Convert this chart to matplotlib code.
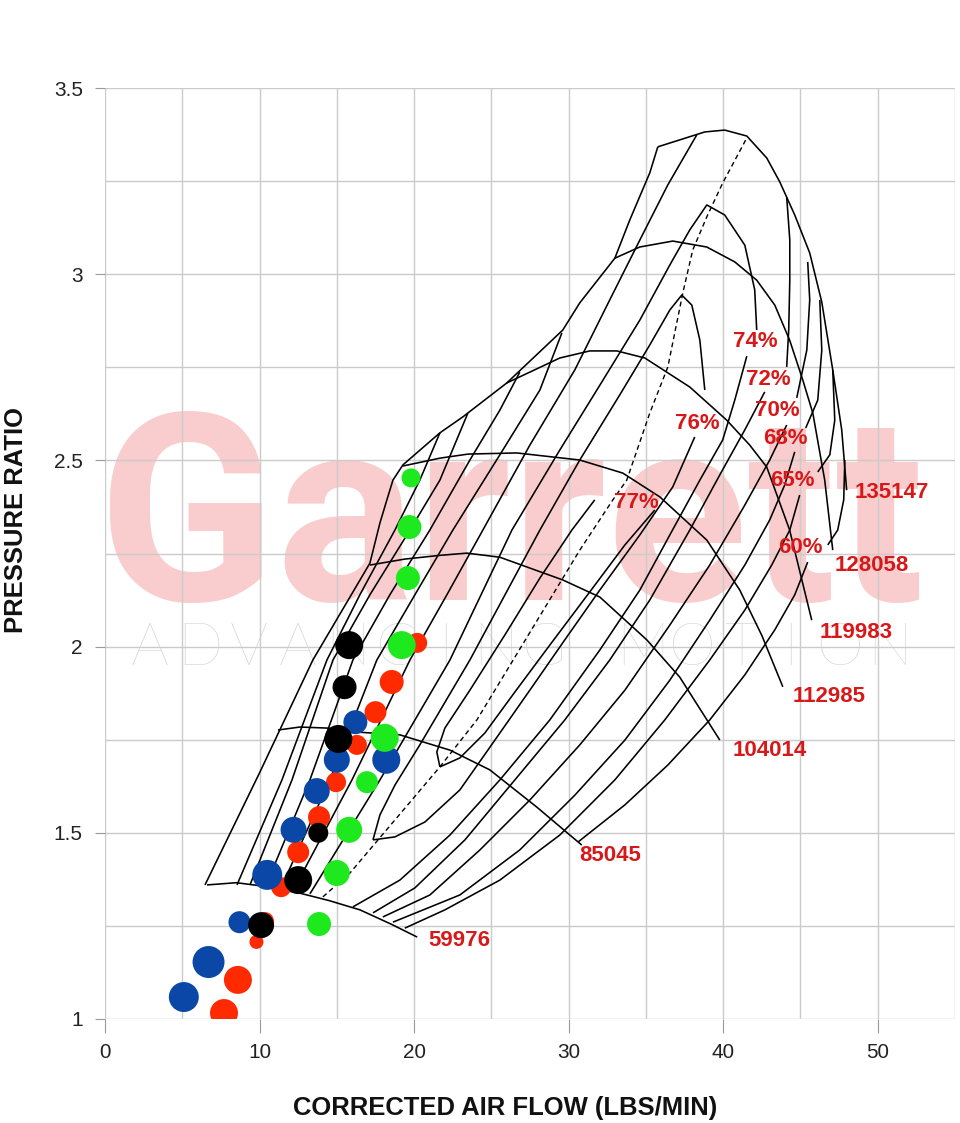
import matplotlib
matplotlib.use("Agg")
import matplotlib.pyplot as plt
from matplotlib import font_manager as fm
from matplotlib.ticker import MultipleLocator

# ---------------- map data (corrected air flow lbs/min, pressure ratio) ----------------
surge_x = [6.47, 10.0, 13.45, 17.14, 17.79, 18.24, 18.63, 19.28, 21.67, 23.16, 26.0, 29.62, 30.72, 32.99, 33.96, 35.25, 35.77]
surge_y = [1.360, 1.661, 1.964, 2.224, 2.332, 2.394, 2.447, 2.488, 2.574, 2.617, 2.708, 2.850, 2.923, 3.043, 3.146, 3.272, 3.342]

spd_59976_x = [6.6, 8.5, 10.0, 12.6, 14.5, 16.5, 18.5, 20.2]
spd_59976_y = [1.360, 1.366, 1.358, 1.338, 1.318, 1.293, 1.255, 1.220]
spd_85045_x = [11.19, 12.61, 14.5, 16.49, 19.08, 22.32, 24.9, 27.94, 30.85]
spd_85045_y = [1.776, 1.784, 1.781, 1.770, 1.763, 1.722, 1.669, 1.569, 1.467]
spd_104014_x = [17.14, 19.4, 21.67, 23.42, 25.55, 29.62, 32.02, 35.06, 37.19, 39.78]
spd_104014_y = [2.219, 2.235, 2.245, 2.251, 2.240, 2.179, 2.133, 2.018, 1.918, 1.749]
spd_112985_x = [19.28, 21.67, 23.5, 26.65, 30.72, 33.5, 35.9, 38.94, 41.07, 42.5, 43.86]
spd_112985_y = [2.485, 2.506, 2.517, 2.520, 2.501, 2.466, 2.402, 2.286, 2.152, 2.03, 1.892]
spd_119983_x = [26.0, 29.43, 31.37, 33.12, 34.93, 37.84, 40.23, 41.72, 42.82, 44.3, 45.73]
spd_119983_y = [2.708, 2.775, 2.794, 2.794, 2.775, 2.697, 2.608, 2.541, 2.482, 2.313, 2.071]
spd_128058_x = [32.99, 34.6, 36.74, 38.94, 40.75, 42.17, 43.34, 44.3, 45.15, 45.8, 46.57, 47.09]
spd_128058_y = [3.043, 3.073, 3.089, 3.073, 3.033, 2.984, 2.917, 2.823, 2.716, 2.627, 2.447, 2.259]
spd_135147_x = [35.77, 38.81, 40.10, 41.53, 42.82, 43.66, 44.63, 45.6, 46.38, 47.09, 47.67, 47.99]
spd_135147_y = [3.342, 3.382, 3.387, 3.371, 3.312, 3.248, 3.159, 3.057, 2.925, 2.743, 2.582, 2.420]

speed_labels = ["59976", "85045", "104014", "112985", "119983", "128058", "135147"]
speed_label_x = [20.9, 30.7, 40.6, 44.5, 46.25, 47.2, 48.5]
speed_label_y = [1.212, 1.438, 1.722, 1.865, 2.039, 2.219, 2.415]

dash_x = [14.1, 15.85, 21.67, 24.06, 30.72, 32.86, 33.76, 35.25, 36.42, 37.39, 38.03, 38.94, 39.97, 41.53]
dash_y = [1.328, 1.392, 1.677, 1.803, 2.259, 2.394, 2.447, 2.627, 2.751, 2.950, 3.065, 3.154, 3.245, 3.366]

# efficiency islands: left (surge side) branch, right branch above its label, lower branch below it
eff77_l_x = [21.67, 21.47, 21.99, 23.61, 25.87, 28.14, 30.21, 31.69]
eff77_l_y = [1.677, 1.717, 1.781, 1.883, 2.031, 2.184, 2.313, 2.394]
eff77_r_x = [35.58, 33.64, 31.37, 28.78, 26.52, 24.58, 22.96, 21.67]
eff77_r_y = [2.367, 2.273, 2.147, 2.004, 1.878, 1.768, 1.701, 1.677]

eff76_l_x = [17.34, 17.79, 18.76, 20.37, 23.61, 28.14, 30.72, 33.31, 35.25, 36.55, 37.32, 37.97, 38.49, 38.81]
eff76_l_y = [1.481, 1.548, 1.628, 1.736, 1.964, 2.313, 2.501, 2.676, 2.810, 2.904, 2.944, 2.917, 2.823, 2.689]
eff76_r_x = [38.16, 36.74, 34.61, 32.02, 29.75, 27.49, 25.23, 22.96, 20.70, 18.76, 17.34]
eff76_r_y = [2.563, 2.429, 2.300, 2.152, 2.018, 1.883, 1.749, 1.615, 1.529, 1.489, 1.481]

eff74_l_x = [13.26, 17.79, 22.32, 26.33, 29.43, 32.02, 34.61, 36.55, 37.84, 38.94, 40.10, 41.40, 42.04, 42.17]
eff74_l_y = [1.336, 1.642, 1.964, 2.313, 2.528, 2.702, 2.877, 3.025, 3.119, 3.186, 3.159, 3.078, 2.958, 2.850]
eff74_r_x = [41.53, 40.75, 39.97, 38.49, 36.55, 34.61, 32.02, 28.78, 25.55, 22.32, 19.08, 16.04]
eff74_r_y = [2.780, 2.662, 2.555, 2.447, 2.300, 2.152, 1.991, 1.803, 1.642, 1.494, 1.373, 1.301]

eff72_l_x = [12.16, 15.98, 19.73, 22.12, 24.45, 27.49, 30.40, 32.66, 34.61, 36.42, 38.29]
eff72_l_y = [1.344, 1.642, 1.964, 2.139, 2.313, 2.541, 2.743, 2.931, 3.092, 3.240, 3.374]
eff72_u_x = [44.11, 44.31, 44.31, 44.24, 44.11]
eff72_u_y = [3.207, 3.092, 2.984, 2.850, 2.751]
eff72_r_x = [42.69, 41.40, 39.78, 37.84, 35.25, 32.66, 29.75, 26.52, 23.29, 20.05, 17.34]
eff72_r_y = [2.684, 2.582, 2.461, 2.313, 2.125, 1.964, 1.803, 1.642, 1.481, 1.352, 1.285]

eff70_l_x = [11.32, 14.55, 17.59, 20.05, 22.51, 25.55, 28.14, 29.56]
eff70_l_y = [1.346, 1.642, 1.964, 2.139, 2.313, 2.515, 2.689, 2.842]
eff70_u_x = [45.47, 45.60, 45.41, 44.76]
eff70_u_y = [3.033, 2.931, 2.796, 2.668]
eff70_r_x = [44.11, 43.01, 41.40, 39.13, 36.55, 33.64, 30.72, 27.49, 24.26, 21.02, 17.98]
eff70_r_y = [2.595, 2.501, 2.380, 2.219, 2.058, 1.883, 1.736, 1.588, 1.454, 1.333, 1.274]

eff68_l_x = [10.35, 13.26, 16.04, 18.43, 21.02, 23.61, 25.55, 26.84]
eff68_l_y = [1.352, 1.642, 1.964, 2.139, 2.313, 2.501, 2.635, 2.737]
eff68_u_x = [46.25, 46.38, 46.12, 45.34]
eff68_u_y = [2.931, 2.796, 2.662, 2.587]
eff68_r_x = [44.63, 43.98, 43.01, 41.40, 39.13, 36.55, 33.64, 30.40, 26.84, 22.96, 18.63]
eff68_r_y = [2.523, 2.434, 2.340, 2.219, 2.071, 1.910, 1.749, 1.601, 1.454, 1.333, 1.260]

eff65_l_x = [9.38, 12.10, 14.75, 17.14, 19.73, 21.67, 23.48]
eff65_l_y = [1.360, 1.642, 1.964, 2.139, 2.313, 2.447, 2.627]
eff65_u_x = [47.09, 47.22, 46.90, 46.12]
eff65_u_y = [2.743, 2.608, 2.515, 2.469]
eff65_r_x = [44.95, 44.31, 43.14, 41.40, 39.13, 36.22, 32.99, 29.43, 25.55, 21.99, 19.40]
eff65_r_y = [2.407, 2.313, 2.219, 2.098, 1.964, 1.803, 1.642, 1.494, 1.373, 1.293, 1.244]

eff60_l_x = [8.54, 11.45, 14.36, 16.49, 18.76, 20.37, 21.67]
eff60_l_y = [1.360, 1.642, 1.964, 2.139, 2.313, 2.447, 2.574]
eff60_u_x = [47.87, 47.80, 47.41, 46.77]
eff60_u_y = [2.501, 2.394, 2.313, 2.273]
eff60_r_x = [45.47, 44.63, 43.34, 41.40, 39.13, 36.42, 33.64, 30.60]
eff60_r_y = [2.227, 2.139, 2.045, 1.924, 1.803, 1.682, 1.575, 1.475]

pct_labels = ["77%", "76%", "74%", "72%", "70%", "68%", "65%", "60%"]
pct_x = [34.4, 38.3, 42.1, 42.9, 43.5, 44.0, 44.5, 45.0]
pct_y = [2.388, 2.600, 2.818, 2.716, 2.633, 2.560, 2.447, 2.267]

# ---------------- operating points ----------------
red_x = [20.2, 18.55, 17.5, 16.3, 14.95, 13.85, 12.5, 11.4, 10.35, 9.8, 8.6, 7.7]
red_y = [2.010, 1.905, 1.824, 1.736, 1.636, 1.542, 1.448, 1.354, 1.263, 1.207, 1.105, 1.016]
red_r = [10, 12, 11, 10, 10, 11, 11, 10, 9, 7, 14, 14]
blue_x = [16.2, 15.0, 18.2, 13.7, 12.2, 10.5, 8.7, 6.7, 5.1]
blue_y = [1.797, 1.696, 1.696, 1.612, 1.508, 1.387, 1.260, 1.153, 1.059]
blue_r = [12, 13, 14, 13, 13, 15, 11, 16, 15]
black_x = [15.8, 15.5, 15.1, 13.8, 12.5, 10.1]
black_y = [2.004, 1.891, 1.752, 1.500, 1.373, 1.252]
black_r = [14, 12, 14, 10, 14, 13]
green_x = [19.8, 19.7, 19.6, 19.2, 18.1, 16.95, 15.8, 15.0, 13.85]
green_y = [2.453, 2.321, 2.184, 2.004, 1.755, 1.636, 1.508, 1.392, 1.255]
green_r = [9.5, 12, 12, 14, 14, 11, 13, 13, 12]

RED = "#FF2A00"
BLUE = "#0A47A6"
GREEN = "#1EE81E"
LABEL_RED = "#D81818"

names = {f.name for f in fm.fontManager.ttflist}
NARROW = "Liberation Sans Narrow" if "Liberation Sans Narrow" in names else None
SANS = ["Liberation Sans", "DejaVu Sans"]
narrow_fam = [NARROW] + SANS if NARROW else SANS
nscale = 1.0 if NARROW else 0.88

fig = plt.figure(figsize=(9.6, 11.23), dpi=100)
ax = fig.add_axes([105 / 960, 104 / 1123, 850 / 960, 931 / 1123])
ax.set_xlim(0, 55)
ax.set_ylim(1, 3.5)
ax.set_axisbelow(True)
for s in ax.spines.values():
    s.set_visible(False)

ax.xaxis.set_major_locator(MultipleLocator(10))
ax.xaxis.set_minor_locator(MultipleLocator(5))
ax.yaxis.set_minor_locator(MultipleLocator(0.25))
ax.set_yticks([1, 1.5, 2, 2.5, 3, 3.5])
ax.set_yticklabels(["1", "1.5", "2", "2.5", "3", "3.5"])
ax.grid(which="both", color="#cbcbcb", linewidth=1.0)
ax.tick_params(axis="x", which="major", length=10, color="#999999", labelsize=17 * nscale,
               labelcolor="#222222", pad=7)
ax.tick_params(axis="y", which="major", length=7, color="#999999", labelsize=15,
               labelcolor="#222222", pad=9)
ax.tick_params(which="minor", length=0)
for lab in ax.get_xticklabels():
    lab.set_family(narrow_fam)
for lab in ax.get_yticklabels():
    lab.set_family(SANS)

# watermark
ax.text(26.3, 2.125, "Garrett", ha="center", va="baseline", fontsize=188, color="#F9CDCD",
        family=["Roboto", "DejaVu Sans"], fontweight="bold", zorder=0.1)
wm_letters = list("ADVANCING") + [""] + list("MOTION")
for i, ch in enumerate(wm_letters):
    ax.text(2.91 + 3.19 * i, 1.951, ch, ha="center", va="baseline", fontsize=43, color="#D2D2D2",
            family=["Lato", "DejaVu Sans"], fontweight="light", zorder=0.1)

line_kw = dict(color="black", linewidth=1.15, zorder=2, solid_capstyle="butt")
ax.plot(surge_x, surge_y, **line_kw)
for xs, ys in [(spd_59976_x, spd_59976_y), (spd_85045_x, spd_85045_y),
               (spd_104014_x, spd_104014_y), (spd_112985_x, spd_112985_y),
               (spd_119983_x, spd_119983_y), (spd_128058_x, spd_128058_y),
               (spd_135147_x, spd_135147_y)]:
    ax.plot(xs, ys, **line_kw)
ax.plot(dash_x, dash_y, color="black", linewidth=1.0, linestyle=(0, (3.5, 2.5)), zorder=2)

eff_lines = [(eff77_l_x, eff77_l_y), (eff77_r_x, eff77_r_y),
             (eff76_l_x, eff76_l_y), (eff76_r_x, eff76_r_y),
             (eff74_l_x, eff74_l_y), (eff74_r_x, eff74_r_y),
             (eff72_l_x, eff72_l_y), (eff72_u_x, eff72_u_y), (eff72_r_x, eff72_r_y),
             (eff70_l_x, eff70_l_y), (eff70_u_x, eff70_u_y), (eff70_r_x, eff70_r_y),
             (eff68_l_x, eff68_l_y), (eff68_u_x, eff68_u_y), (eff68_r_x, eff68_r_y),
             (eff65_l_x, eff65_l_y), (eff65_u_x, eff65_u_y), (eff65_r_x, eff65_r_y),
             (eff60_l_x, eff60_l_y), (eff60_u_x, eff60_u_y), (eff60_r_x, eff60_r_y)]
for xs, ys in eff_lines:
    ax.plot(xs, ys, **line_kw)

for t, x, y in zip(speed_labels, speed_label_x, speed_label_y):
    ax.text(x, y, t, color=LABEL_RED, fontsize=16, fontweight="bold", ha="left", va="center",
            family=SANS, zorder=4)
for t, x, y in zip(pct_labels, pct_x, pct_y):
    ax.text(x, y, t, color=LABEL_RED, fontsize=16, fontweight="bold", ha="center", va="center",
            family=SANS, zorder=4)

for xs, ys, rs, c in [(red_x, red_y, red_r, RED), (blue_x, blue_y, blue_r, BLUE),
                      (black_x, black_y, black_r, "black"), (green_x, green_y, green_r, GREEN)]:
    ax.scatter(xs, ys, s=[2.07 * r * r for r in rs], color=c, linewidths=0, zorder=3)

fig.text(505 / 960, 1 - 1108 / 1123, "CORRECTED AIR FLOW (LBS/MIN)", ha="center", va="center",
         fontsize=21 * nscale, fontweight="bold", family=narrow_fam, color="#111111")
fig.text(16 / 960, 1 - 520 / 1123, "PRESSURE RATIO", ha="center", va="center", rotation=90,
         fontsize=21 * nscale, fontweight="bold", family=narrow_fam, color="#111111")

fig.savefig("out.png", dpi=100)
